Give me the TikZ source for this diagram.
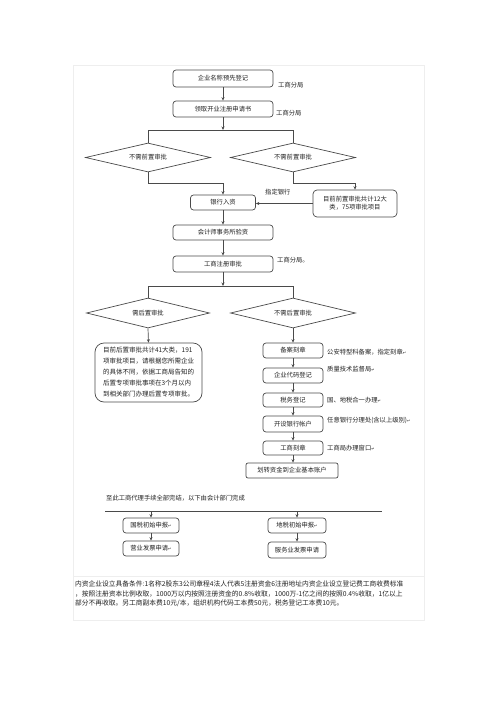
\documentclass[tikz,border=0pt]{standalone}
\usepackage{fontspec}
\newfontfamily\cjk{Noto Sans CJK SC}
\newfontfamily\dv{DejaVu Sans}
\usetikzlibrary{shapes.geometric,arrows.meta}
\definecolor{bd}{HTML}{4A4A4A}
\definecolor{tx}{HTML}{222222}
\definecolor{fr}{HTML}{EEEEEE}
\newcommand{\rt}{{\dv\fontsize{4}{4}\selectfont ↵}}
\tikzset{
  every node/.style={font=\cjk\fontsize{6.3}{8}\selectfont, text=tx},
  box/.style={draw=bd, line width=0.7pt, rounded corners=3pt, rectangle, inner sep=0pt, align=center},
  dia/.style={draw=bd, line width=0.7pt, diamond, aspect=4.3, inner sep=0pt},
  lbl/.style={anchor=west, inner sep=0pt},
  ln/.style={draw=bd, line width=0.7pt},
  arr/.style={draw=bd, line width=0.7pt, -{Stealth[length=3.5pt,width=3pt]}},
}
\begin{document}
\begin{tikzpicture}[x=1pt,y=-1pt]
\useasboundingbox (0,0) rectangle (500,707);
\fill[white] (0,0) rectangle (500,707);
% faint frames
\draw[fr, line width=0.8pt] (73,65) rectangle (424,576);
\draw[fr, line width=0.8pt] (73,576) rectangle (424,620);

% top part
\node[box, minimum width=100, minimum height=17] (b1) at (223,78.5) {企业名称预先登记};
\node[lbl] (l1) at (278,85) {工商分局};
\node[box, minimum width=100, minimum height=16] (b2) at (223,109) {领取开业注册申请书};
\node[lbl] (l2) at (276,113) {工商分局};
\draw[arr] (b1) -- (b2);
\coordinate (s1) at (223,130);
\coordinate (s1l) at (148,130);
\coordinate (s1r) at (293,130);
\draw[arr] (b2) -- (s1);
\draw[ln] (s1l) -- (s1r);

\node[dia, minimum width=125, minimum height=29] (d1) at (148,157.5) {不需前置审批};
\node[dia, minimum width=125, minimum height=29] (d2) at (293,157.5) {不需前置审批};
\draw[ln] (s1l) -- (d1.north);
\draw[ln] (s1r) -- (d2.north);

\node[box, minimum width=65, minimum height=15] (bank) at (223,202.5) {银行入资};
\node[box, minimum width=84, minimum height=27, rounded corners=4pt] (pre) at (355,203.5) {目前前置审批共计12大\\类，75项审批项目};
\node[lbl] (l3) at (265,192) {指定银行};
\coordinate (k1) at (148,183);
\coordinate (k2) at (223,183);
\coordinate (k3) at (293,183);
\coordinate (k4) at (355,183);
\draw[arr] (d1.south) -- (k1) -- (k2) -- (bank.north);
\draw[arr] (d2.south) -- (k3) -- (k4) -- (pre.north);
\draw[arr] (pre.west) -- (pre.west -| bank.east);

\node[box, minimum width=100, minimum height=15] (acc) at (223,232.5) {会计师事务所验资};
\draw[arr] (bank) -- (acc);
\node[box, minimum width=100, minimum height=16] (reg) at (223,264) {工商注册审批};
\node[lbl] (l4) at (277,260) {工商分局。};
\draw[arr] (acc) -- (reg);

\coordinate (s2) at (223,286);
\coordinate (s2l) at (148,286);
\coordinate (s2r) at (293,286);
\draw[arr] (reg) -- (s2);
\draw[ln] (s2l) -- (s2r);
\node[dia, minimum width=123, minimum height=30] (d3) at (148,313) {需后置审批};
\node[dia, minimum width=125, minimum height=30] (d4) at (293,313) {不需后置审批};
\draw[ln] (s2l) -- (d3.north);
\draw[ln] (s2r) -- (d4.north);

\node[box, minimum width=107, minimum height=59, rounded corners=9pt, align=left, font=\cjk\fontsize{6.5}{11}\selectfont] (post) at (148.5,372.5)
 {目前后置审批共计41大类，191\\项审批项目，请根据您所需企业\\的具体不同，依据工商局告知的\\后置专项审批事项在3个月以内\\到相关部门办理后置专项审批。};
\draw[arr] (d3.south) -- (post.north);

% right chain
\node[box, minimum width=60, minimum height=15] (c1) at (293,350.5) {备案刻章};
\node[box, minimum width=60, minimum height=15] (c2) at (293,375.5) {企业代码登记};
\node[box, minimum width=60, minimum height=14] (c3) at (293,400) {税务登记};
\node[box, minimum width=60, minimum height=16] (c4) at (293,424) {开设银行帐户};
\node[box, minimum width=60, minimum height=14] (c5) at (293,448) {工商刻章};
\node[box, minimum width=92, minimum height=15, rounded corners=2pt] (c6) at (292,470.5) {划转资金到企业基本账户};
\draw[arr] (d4.south) -- (c1.north);
\draw[arr] (c1) -- (c2);
\draw[arr] (c2) -- (c3);
\draw[arr] (c3) -- (c4);
\draw[arr] (c4) -- (c5);
\draw[arr] (c5.south) -- (c5.south |- c6.north);
\node[lbl] (m1) at (327,352) {公安特型科备案，指定刻章\rt};
\node[lbl] (m2) at (327,369) {质量技术监督局\rt};
\node[lbl] (m3) at (327,400) {国、地税合一办理\rt};
\node[lbl] (m4) at (327,420) {任意银行分理处(含以上级别)\rt};
\node[lbl] (m5) at (327,448) {工商局办理窗口\rt};

% bottom part
\node[lbl] (t1) at (106,498) {至此工商代理手续全部完结，以下由会计部门完成};
\coordinate (h1) at (105,511);
\coordinate (h2) at (382,511);
\coordinate (hl) at (151,511);
\coordinate (hr) at (297,511);
\draw[ln] (h1) -- (h2);
\node[box, minimum width=56, minimum height=15] (e1) at (151,525.5) {国税初始申报\rt};
\node[box, minimum width=56, minimum height=15] (e2) at (151,548.5) {营业发票申请\rt};
\node[box, minimum width=58, minimum height=15] (f1) at (297,525.5) {地税初始申报\rt};
\node[box, minimum width=58, minimum height=16] (f2) at (297,550) {服务业发票申请};
\draw[arr] (hl) -- (e1.north);
\draw[arr] (hr) -- (f1.north);
\draw[arr] (e1) -- (e2);
\draw[arr] (f1) -- (f2);

% footer
\begin{scope}[every node/.style={font=\cjk\fontsize{6.75}{8}\selectfont, text=tx, anchor=west, inner sep=0pt}]
\node (n1) at (75,584) {内资企业设立具备条件:1名称2股东3公司章程4法人代表5注册资金6注册地址内资企业设立登记费工商收费标准};
\node (n2) at (75,594) {，按照注册资本比例收取，1000万以内按照注册资金的0.8\%收取，1000万-1亿之间的按照0.4\%收取，1亿以上};
\node (n3) at (75,603.5) {部分不再收取。另工商副本费10元/本，组织机构代码工本费50元，税务登记工本费10元。};
\end{scope}
\end{tikzpicture}
\end{document}
